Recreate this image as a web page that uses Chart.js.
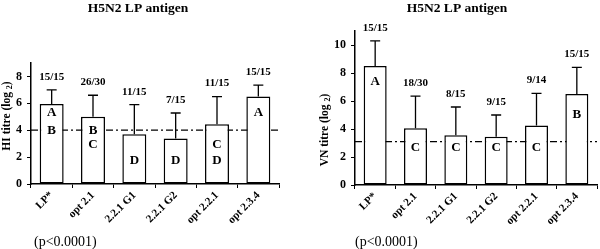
<!DOCTYPE html>
<html>
<head>
<meta charset="utf-8">
<script src="https://cdn.jsdelivr.net/npm/chart.js@4/dist/chart.umd.min.js"></script>
<style>
	html, body { margin: 0; padding: 0; background: #fff; }
	.panel { position: absolute; top: 0; width: 300px; height: 249px; }
</style>
</head>
<body>
<div class="panel" style="left:0"><canvas id="hi-chart" width="300" height="249"></canvas></div>
<div class="panel" style="left:300px"><canvas id="vn-chart" width="300" height="249"></canvas></div>
<script>
const categories = ["LP*", "opt 2.1", "2.2.1 G1", "2.2.1 G2", "opt 2.2.1", "opt 2.3.4"];

// HI titre (log2)
const hiMeans = [5.95, 5.0, 3.7, 3.38, 4.45, 6.5];
const hiSd = [1.05, 1.6, 2.2, 1.9, 2.05, 0.85];
const hiCounts = ["15/15", "26/30", "11/15", "7/15", "11/15", "15/15"];
const hiGroups = ["AB", "BC", "D", "D", "CD", "A"];
const hiCutoff = 4;

// VN titre (log2)
const vnMeans = [8.5, 4.05, 3.55, 3.45, 4.25, 6.5];
const vnSd = [1.8, 2.3, 2.02, 1.55, 2.3, 1.9];
const vnCounts = ["15/15", "18/30", "8/15", "9/15", "9/14", "15/15"];
const vnGroups = ["A", "C", "C", "C", "C", "B"];
const vnCutoff = 3.1;

const SERIF = "'Liberation Serif', 'Times New Roman', serif";

// Draws cutoff line, error bars, counts, letters and texts
const overlayPlugin = {
	id: "overlay",
	beforeDatasetsDraw(chart) {
		const o = chart.options.plugins.overlay;
		const { ctx, chartArea } = chart;
		const y = chart.scales.y.getPixelForValue(o.cutoff);
		ctx.save();
		ctx.strokeStyle = "#000";
		ctx.lineWidth = 1.3;
		ctx.setLineDash([7, 3, 2, 3]);
		ctx.beginPath();
		ctx.moveTo(chartArea.left, y);
		ctx.lineTo(chartArea.right, y);
		ctx.stroke();
		ctx.restore();
	},
	afterDatasetsDraw(chart) {
		const o = chart.options.plugins.overlay;
		const { ctx } = chart;
		const yScale = chart.scales.y;
		const meta = chart.getDatasetMeta(0);
		ctx.save();
		meta.data.forEach((bar, i) => {
			const mean = o.means[i];
			const top = yScale.getPixelForValue(mean + o.sd[i]);
			const base = yScale.getPixelForValue(mean);

			// error bar
			ctx.strokeStyle = "#000";
			ctx.lineWidth = 1.3;
			ctx.beginPath();
			ctx.moveTo(bar.x, base);
			ctx.lineTo(bar.x, top);
			ctx.moveTo(bar.x - 5, top);
			ctx.lineTo(bar.x + 5, top);
			ctx.stroke();

			// responders
			ctx.fillStyle = "#000";
			ctx.textAlign = "center";
			ctx.textBaseline = "middle";
			ctx.font = "bold 11px " + SERIF;
			ctx.fillText(o.counts[i], bar.x, top - 13);

			// letters
			ctx.font = "bold 13px " + SERIF;
			for (const letter of o.groups[i]) {
				ctx.fillText(letter, bar.x, yScale.getPixelForValue(o.letterLevel[letter]));
			}
		});
		ctx.restore();
	},
	afterDraw(chart) {
		const o = chart.options.plugins.overlay;
		const { ctx } = chart;
		ctx.save();
		ctx.fillStyle = "#000";
		ctx.textBaseline = "middle";

		ctx.textAlign = "center";
		ctx.font = "bold 13.5px " + SERIF;
		ctx.fillText("H5N2 LP antigen", o.titleX, 9);

		ctx.textAlign = "left";
		ctx.font = "14px " + SERIF;
		ctx.fillText("(p<0.0001)", o.noteX, 242);

		// y axis title with subscript
		ctx.translate(o.yTitleX, o.yTitleY);
		ctx.rotate(-Math.PI / 2);
		const a = o.yTitle + " (log ";
		ctx.font = "bold 11.5px " + SERIF;
		const wa = ctx.measureText(a).width;
		ctx.font = "bold 8px " + SERIF;
		const ws = ctx.measureText("2").width;
		ctx.font = "bold 11.5px " + SERIF;
		const wc = ctx.measureText(")").width;
		let x = -(wa + ws + wc) / 2;
		ctx.fillText(a, x, 0);
		x += wa;
		ctx.font = "bold 8px " + SERIF;
		ctx.fillText("2", x, 3);
		x += ws;
		ctx.font = "bold 11.5px " + SERIF;
		ctx.fillText(")", x, 0);
		ctx.restore();
	},
};

function buildChart(id, cfg) {
	const ctx = document.getElementById(id).getContext("2d");
	return new Chart(ctx, {
		type: "bar",
		data: {
			labels: categories,
			datasets: [
				{
					data: cfg.means,
					backgroundColor: "#fff",
					borderColor: "#000",
					borderWidth: 1.5,
					borderSkipped: false,
					barPercentage: cfg.barPct,
					categoryPercentage: 1,
				},
			],
		},
		options: {
			responsive: false,
			animation: false,
			devicePixelRatio: 1,
			layout: { padding: { top: cfg.top, right: cfg.right, left: 0, bottom: 0 } },
			scales: {
				x: {
					afterFit: (scale) => { scale.height = 249 - cfg.bottom; },
					grid: { offset: true, drawOnChartArea: false, drawTicks: true, tickLength: 4, color: "#000", lineWidth: 1 },
					border: { color: "#000", width: 1.5 },
					ticks: {
						maxRotation: 45,
						minRotation: 45,
						padding: 1,
						color: "#000",
						font: { family: SERIF, size: 11, weight: "bold" },
					},
				},
				y: {
					min: 0,
					max: cfg.max,
					afterFit: (scale) => { scale.width = cfg.left; },
					grid: { drawOnChartArea: false, drawTicks: true, tickLength: 4, color: "#000", lineWidth: 1 },
					border: { color: "#000", width: 1.5 },
					ticks: {
						stepSize: 2,
						includeBounds: false,
						padding: 5,
						color: "#000",
						font: { family: SERIF, size: 12, weight: "bold" },
					},
				},
			},
			plugins: {
				legend: { display: false },
				tooltip: { enabled: false },
				title: { display: false },
				overlay: cfg.overlay,
			},
		},
		plugins: [overlayPlugin],
	});
}

buildChart("hi-chart", {
	means: hiMeans,
	max: 9,
	top: 63,
	right: 21,
	left: 31,
	bottom: 184,
	barPct: 0.58,
	overlay: {
		means: hiMeans,
		sd: hiSd,
		counts: hiCounts,
		groups: hiGroups,
		cutoff: hiCutoff,
		letterLevel: { A: 5.3, B: 4.0, C: 2.9, D: 1.75 },
		titleX: 138,
		noteX: 34,
		yTitle: "HI titre",
		yTitleX: 7,
		yTitleY: 116,
	},
});

buildChart("vn-chart", {
	means: vnMeans,
	max: 11,
	top: 31,
	right: 3,
	left: 55,
	bottom: 185,
	barPct: 0.57,
	overlay: {
		means: vnMeans,
		sd: vnSd,
		counts: vnCounts,
		groups: vnGroups,
		cutoff: vnCutoff,
		letterLevel: { A: 7.35, B: 5.0, C: 2.65 },
		titleX: 157,
		noteX: 55,
		yTitle: "VN titre",
		yTitleX: 25,
		yTitleY: 130,
	},
});
</script>
</body>
</html>
